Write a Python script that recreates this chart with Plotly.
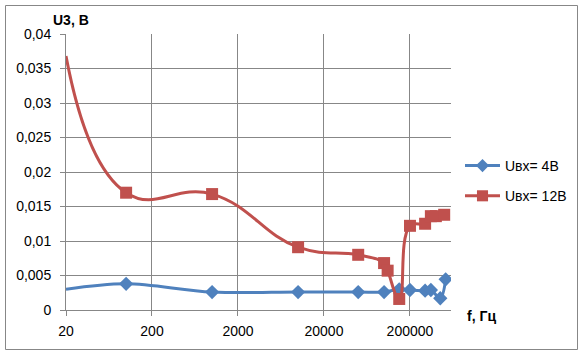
import numpy as np
import plotly.graph_objects as go

# Data (the 20 Hz points are drawn without a marker, as in the reference)
f_4 = [20, 100, 1000, 10000, 50000, 100000, 150000, 200000, 300000, 350000, 450000, 520000]
u_4 = [0.0030, 0.0038, 0.0026, 0.0026, 0.0026, 0.0026, 0.0030, 0.0029, 0.0028, 0.0029, 0.0017, 0.00445]

f_12 = [20, 100, 1000, 10000, 50000, 100000, 110000, 150000, 200000, 300000, 350000, 400000, 500000]
u_12 = [0.0368, 0.0170, 0.0168, 0.0091, 0.0080, 0.0068, 0.0057, 0.0016, 0.0122, 0.0125, 0.0136, 0.0136, 0.0138]

x_ticks = [20, 200, 2000, 20000, 200000]
x_ticktext = ["20", "200", "2000", "20000", "200000"]
y_ticks = [0, 0.005, 0.01, 0.015, 0.02, 0.025, 0.03, 0.035, 0.04]
y_ticktext = ["0", "0,005", "0,01", "0,015", "0,02", "0,025", "0,03", "0,035", "0,04"]

BLUE = "#4F81BD"
RED = "#C0504D"
FONT = "Liberation Sans"

fig = go.Figure()
fig.add_trace(go.Scatter(
    x=f_4, y=u_4, name="Uвх= 4В", mode="lines+markers", legendgroup="a",
    line=dict(color=BLUE, width=3, shape="spline", smoothing=1.0),
    marker=dict(symbol="diamond", size=[0] + [11] * (len(f_4) - 1), color=BLUE,
                opacity=1, line=dict(width=0)),
    opacity=1, cliponaxis=True,
))
fig.add_trace(go.Scatter(
    x=f_12, y=u_12, name="Uвх= 12В", mode="lines+markers", legendgroup="b",
    line=dict(color=RED, width=3, shape="spline", smoothing=1.3),
    marker=dict(symbol="square", size=[0] + [12] * (len(f_12) - 1), color=RED,
                opacity=1, line=dict(width=0)),
    opacity=1, cliponaxis=True,
))

L, R, T, B = 66, 132, 34, 45
W, H = 583, 355
pw, ph = W - L - R, H - T - B

def px_x(p):
    return (p - L) / pw

def px_y(p):
    return (H - B - p) / ph

fig.update_layout(
    width=W, height=H,
    margin=dict(l=L, r=R, t=T, b=B, autoexpand=False),
    paper_bgcolor="white", plot_bgcolor="white",
    font=dict(family=FONT, size=14, color="#000000"),
    showlegend=True,
    legend=dict(x=px_x(460), y=px_y(150), xanchor="left", yanchor="top",
                font=dict(family=FONT, size=14), bgcolor="rgba(0,0,0,0)",
                traceorder="grouped", tracegroupgap=9, itemwidth=35),
    xaxis=dict(
        type="log", range=[np.log10(20), np.log10(600000)],
        tickvals=x_ticks, ticktext=x_ticktext,
        showgrid=True, gridcolor="#878787", gridwidth=1,
        showline=True, linecolor="#878787", linewidth=1,
        ticks="outside", ticklen=5, tickcolor="#878787",
        zeroline=False, tickfont=dict(size=14), ticklabelstandoff=3,
    ),
    yaxis=dict(
        range=[0, 0.04], tickvals=y_ticks, ticktext=y_ticktext,
        showgrid=True, gridcolor="#878787", gridwidth=1,
        showline=True, linecolor="#878787", linewidth=1,
        ticks="outside", ticklen=5, tickcolor="#878787",
        zeroline=False, tickfont=dict(size=14), ticklabelstandoff=6,
    ),
    shapes=[dict(type="rect", xref="paper", yref="paper",
                 x0=px_x(5.5), x1=px_x(577.5), y0=px_y(349.5), y1=px_y(5.5),
                 line=dict(color="#878787", width=1))],
    annotations=[
        dict(text="<b>U3, B</b>", xref="paper", yref="paper",
             x=px_x(51), y=px_y(20), xanchor="left", yanchor="middle",
             showarrow=False, font=dict(family=FONT, size=14)),
        dict(text="<b>f, Гц</b>", xref="paper", yref="paper",
             x=px_x(465), y=px_y(316), xanchor="left", yanchor="middle",
             showarrow=False, font=dict(family=FONT, size=14)),
    ],
)

fig.write_html("out.html", config={"displayModeBar": False},
               post_script="document.body.style.margin='0';document.body.style.padding='0';")
